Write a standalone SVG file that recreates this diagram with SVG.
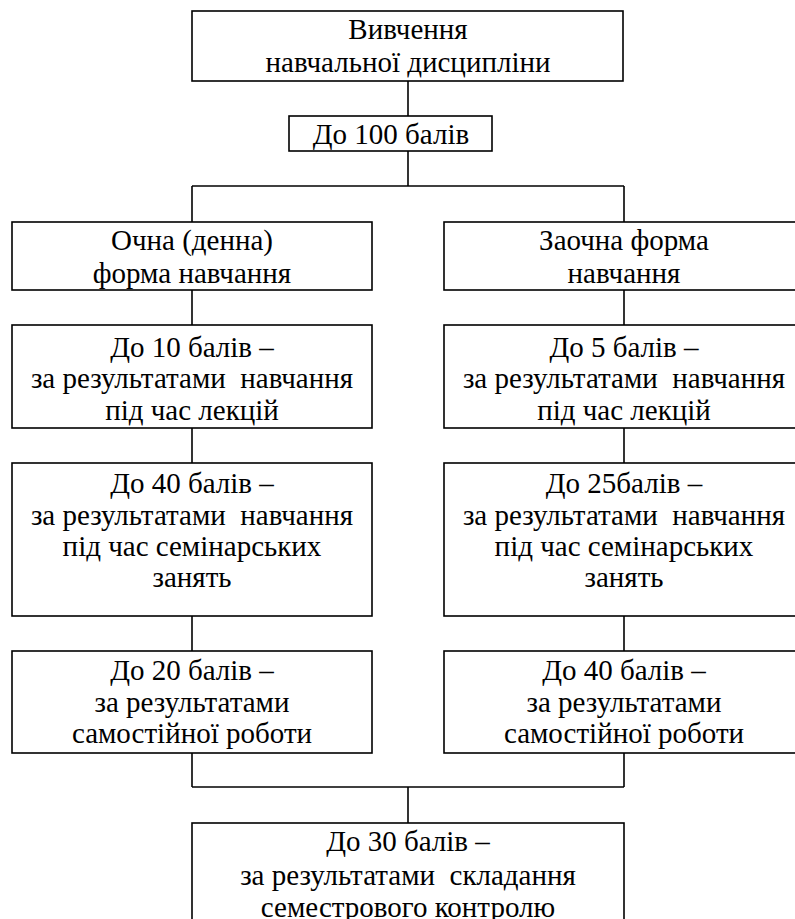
<svg xmlns="http://www.w3.org/2000/svg" width="795" height="919" viewBox="0 0 795 919">
<style>
rect{fill:#fff;stroke:#000;stroke-width:1.6}
line{stroke:#000;stroke-width:1.6}
text{font-family:'Liberation Serif','Times New Roman',serif;font-size:29px;fill:#000;text-anchor:middle}
</style>
<rect x="0" y="0" width="795" height="919" style="stroke:none"/>
<g id="connectors">
<line x1="408" y1="81" x2="408" y2="116"/>
<line x1="408" y1="151" x2="408" y2="186"/>
<line x1="192" y1="186" x2="624" y2="186"/>
<line x1="192" y1="186" x2="192" y2="222"/>
<line x1="624" y1="186" x2="624" y2="222"/>
<line x1="192" y1="290" x2="192" y2="325"/>
<line x1="624" y1="290" x2="624" y2="325"/>
<line x1="192" y1="428" x2="192" y2="463"/>
<line x1="624" y1="428" x2="624" y2="463"/>
<line x1="192" y1="616" x2="192" y2="651"/>
<line x1="624" y1="616" x2="624" y2="651"/>
<line x1="192" y1="753" x2="192" y2="787"/>
<line x1="624" y1="753" x2="624" y2="787"/>
<line x1="192" y1="787" x2="624" y2="787"/>
<line x1="408" y1="787" x2="408" y2="823"/>
</g>
<g id="n-study">
<rect x="192" y="11" width="431" height="70"/>
<text x="408" y="39">Вивчення</text>
<text x="408" y="72">навчальної дисципліни</text>
</g>
<g id="n-100">
<rect x="289" y="116" width="203" height="35"/>
<text x="391" y="144">До 100 балів</text>
</g>
<g id="n-full">
<rect x="12" y="222" width="360" height="68"/>
<text x="192" y="250">Очна (денна)</text>
<text x="192" y="283">форма навчання</text>
</g>
<g id="n-part">
<rect x="444" y="222" width="360" height="68"/>
<text x="624" y="250">Заочна форма</text>
<text x="624" y="283">навчання</text>
</g>
<g id="n-l1">
<rect x="12" y="325" width="360" height="103"/>
<text x="192" y="357">До 10 балів –</text>
<text x="192" y="388">за результатами&#160; навчання</text>
<text x="192" y="420">під час лекцій</text>
</g>
<g id="n-r1">
<rect x="444" y="325" width="360" height="103"/>
<text x="624" y="357">До 5 балів –</text>
<text x="624" y="388">за результатами&#160; навчання</text>
<text x="624" y="420">під час лекцій</text>
</g>
<g id="n-l2">
<rect x="12" y="463" width="360" height="153"/>
<text x="192" y="493">До 40 балів –</text>
<text x="192" y="525">за результатами&#160; навчання</text>
<text x="192" y="556">під час семінарських</text>
<text x="192" y="587">занять</text>
</g>
<g id="n-r2">
<rect x="444" y="463" width="360" height="153"/>
<text x="624" y="493">До 25балів –</text>
<text x="624" y="525">за результатами&#160; навчання</text>
<text x="624" y="556">під час семінарських</text>
<text x="624" y="587">занять</text>
</g>
<g id="n-l3">
<rect x="12" y="651" width="360" height="102"/>
<text x="192" y="680">До 20 балів –</text>
<text x="192" y="712">за результатами</text>
<text x="192" y="743">самостійної роботи</text>
</g>
<g id="n-r3">
<rect x="444" y="651" width="360" height="102"/>
<text x="624" y="680">До 40 балів –</text>
<text x="624" y="712">за результатами</text>
<text x="624" y="743">самостійної роботи</text>
</g>
<g id="n-final">
<rect x="192" y="823" width="432" height="110"/>
<text x="408" y="851">До 30 балів –</text>
<text x="408" y="885">за результатами&#160; складання</text>
<text x="408" y="917">семестрового контролю</text>
</g>
</svg>
